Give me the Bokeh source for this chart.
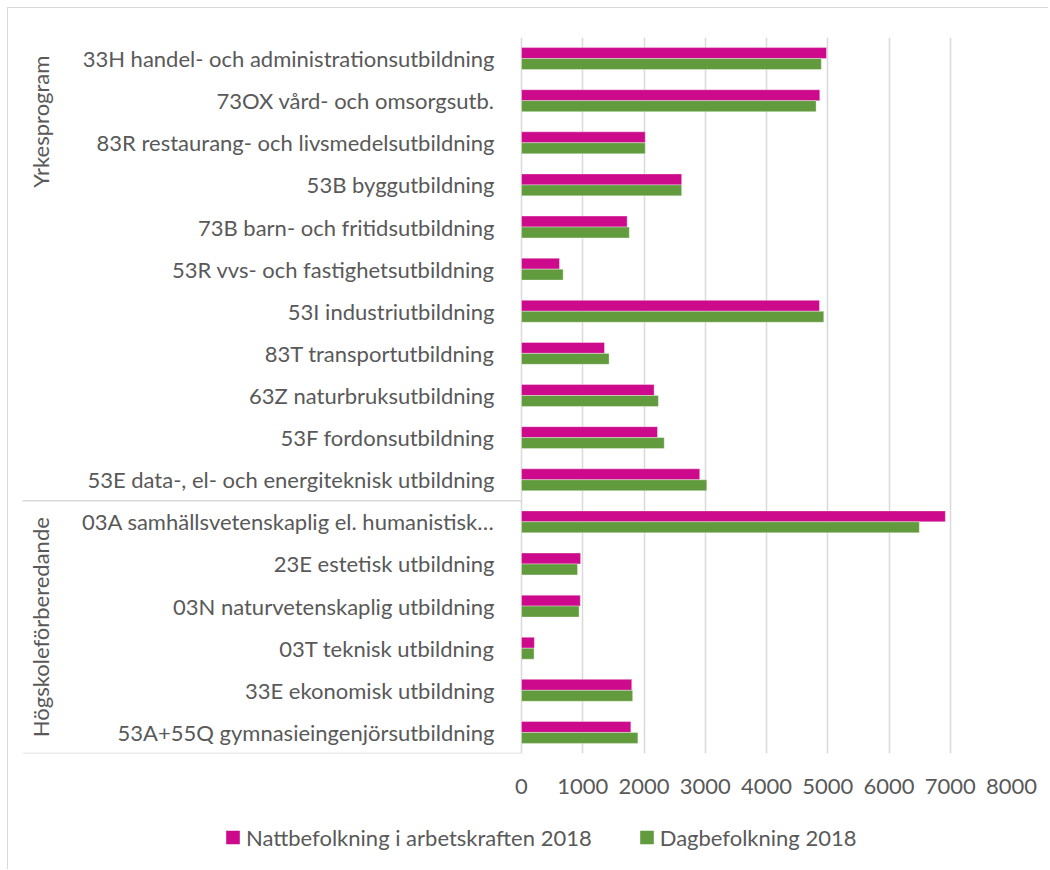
import math
from bokeh.plotting import figure
from bokeh.layouts import column
from bokeh.models import FactorRange, Range1d, FixedTicker, Legend, LegendItem, ColumnDataSource
from bokeh.transform import dodge
from bokeh.core.properties import value
from bokeh.embed import file_html
from bokeh.resources import INLINE

# ---------------- data ----------------
categories = [
    "33H handel- och administrationsutbildning",
    "73OX vård- och omsorgsutb.",
    "83R restaurang- och livsmedelsutbildning",
    "53B byggutbildning",
    "73B barn- och fritidsutbildning",
    "53R vvs- och fastighetsutbildning",
    "53I industriutbildning",
    "83T transportutbildning",
    "63Z naturbruksutbildning",
    "53F fordonsutbildning",
    "53E data-, el- och energiteknisk utbildning",
    "03A samhällsvetenskaplig el. humanistisk…",
    "23E estetisk utbildning",
    "03N naturvetenskaplig utbildning",
    "03T teknisk utbildning",
    "33E ekonomisk utbildning",
    "53A+55Q gymnasieingenjörsutbildning",
]
group_names = ["Yrkesprogram", "Högskoleförberedande"]
group_last_category = ["53E data-, el- och energiteknisk utbildning",
                       "53A+55Q gymnasieingenjörsutbildning"]
group_label_anchor = ["73OX vård- och omsorgsutb.", "03N naturvetenskaplig utbildning"]

nattbefolkning = [4980, 4870, 2020, 2615, 1725, 620, 4865, 1355, 2165,
                  2220, 2910, 6920, 965, 960, 210, 1800, 1785]
dagbefolkning = [4895, 4810, 2020, 2615, 1760, 680, 4935, 1430, 2235,
                 2330, 3025, 6495, 915, 940, 205, 1815, 1900]
series_names = ["Nattbefolkning i arbetskraften 2018", "Dagbefolkning 2018"]
x_ticks = [0, 1000, 2000, 3000, 4000, 5000, 6000, 7000, 8000]

# ---------------- style ----------------
FONT = "Lato"
FS = "22px"
TEXT = "#595959"
GRID = "#D9D9D9"
MAGENTA = "#CC0A8B"
GREEN = "#629A3E"

FRAME_W = 989
ZERO_PX = 499
x_end = x_ticks[-1]
x_start = -x_end * ZERO_PX / (FRAME_W - ZERO_PX)

p = figure(
    width=1040, height=797,
    y_range=FactorRange(factors=categories[::-1]),
    x_range=Range1d(x_start, x_end),
    output_backend="svg", toolbar_location=None, y_axis_location=None,
    min_border_left=14, min_border_right=37, min_border_top=29, min_border_bottom=52,
)
p.outline_line_color = None
p.background_fill_color = "white"
p.border_fill_color = "white"

src = ColumnDataSource(dict(cat=categories, natt=nattbefolkning, dag=dagbefolkning))

r1 = p.hbar(y=dodge("cat", 0.13, range=p.y_range), left=0, right="natt", height=0.26,
            fill_color=MAGENTA, line_color="white", line_alpha=0.45, line_width=0.8, source=src)
r2 = p.hbar(y=dodge("cat", -0.13, range=p.y_range), left=0, right="dag", height=0.26,
            fill_color=GREEN, line_color="white", line_alpha=0.45, line_width=0.8, source=src)

# category labels
p.text(x=0, y="cat", text="cat", source=src, x_offset=-27,
       text_align="right", text_baseline="middle",
       text_font=value(FONT), text_font_size=FS, text_color=TEXT)

# group separators
sep_src = ColumnDataSource(dict(cat=group_last_category))
p.segment(x0=x_start, x1=0, y0=dodge("cat", -0.5, range=p.y_range),
          y1=dodge("cat", -0.5, range=p.y_range), source=sep_src,
          line_color=GRID, line_width=1.5)

# group labels
grp_src = ColumnDataSource(dict(cat=group_label_anchor, name=group_names))
p.text(x=x_start, y=dodge("cat", -0.5, range=p.y_range), text="name", source=grp_src,
       x_offset=17.5, angle=math.pi / 2, text_align="center", text_baseline="middle",
       text_font=value(FONT), text_font_size=FS, text_color=TEXT)

# axis & grid
p.xaxis.ticker = FixedTicker(ticks=x_ticks)
p.xaxis.axis_line_color = None
p.xaxis.major_tick_line_color = None
p.xaxis.minor_tick_line_color = None
p.xaxis.major_label_standoff = 19
p.xaxis.major_label_text_font = FONT
p.xaxis.major_label_text_font_size = FS
p.xaxis.major_label_text_color = TEXT
p.xgrid.ticker = FixedTicker(ticks=x_ticks)
p.xgrid.grid_line_color = GRID
p.xgrid.grid_line_width = 1.5
p.ygrid.grid_line_color = None

# ---------------- legend strip ----------------
lg = figure(
    width=1040, height=64, output_backend="svg", toolbar_location=None,
    x_axis_location=None, y_axis_location=None,
    x_range=Range1d(0, 1), y_range=Range1d(0, 1),
    min_border_left=0, min_border_right=0, min_border_top=0, min_border_bottom=0,
)
lg.outline_line_color = None
lg.grid.visible = False
lg.background_fill_color = "white"
lg.border_fill_color = "white"
# zero-size proxy bars: they only provide the legend swatches
proxy = ColumnDataSource(dict(y=[0.5], left=[0], right=[0]))
lr1 = lg.hbar(y="y", left="left", right="right", height=0, source=proxy,
              fill_color=MAGENTA, line_color=None)
lr2 = lg.hbar(y="y", left="left", right="right", height=0, source=proxy,
              fill_color=GREEN, line_color=None)

legend = Legend(
    items=[LegendItem(label=series_names[0], renderers=[lr1]),
           LegendItem(label=series_names[1], renderers=[lr2])],
    orientation="horizontal", location="left",
    glyph_width=17, glyph_height=17, label_standoff=5, spacing=46,
    padding=4, margin=202, border_line_color=None, background_fill_alpha=0,
    label_text_font=FONT, label_text_font_size=FS, label_text_color=TEXT,
)
lg.add_layout(legend)

layout = column(
    p, lg, spacing=0,
    styles={"border-top": "1px solid #D9D9D9", "border-left": "1px solid #D9D9D9",
            "margin-left": "7px", "margin-top": "7px"},
)

open("out.html", "w").write(file_html(layout, INLINE))
